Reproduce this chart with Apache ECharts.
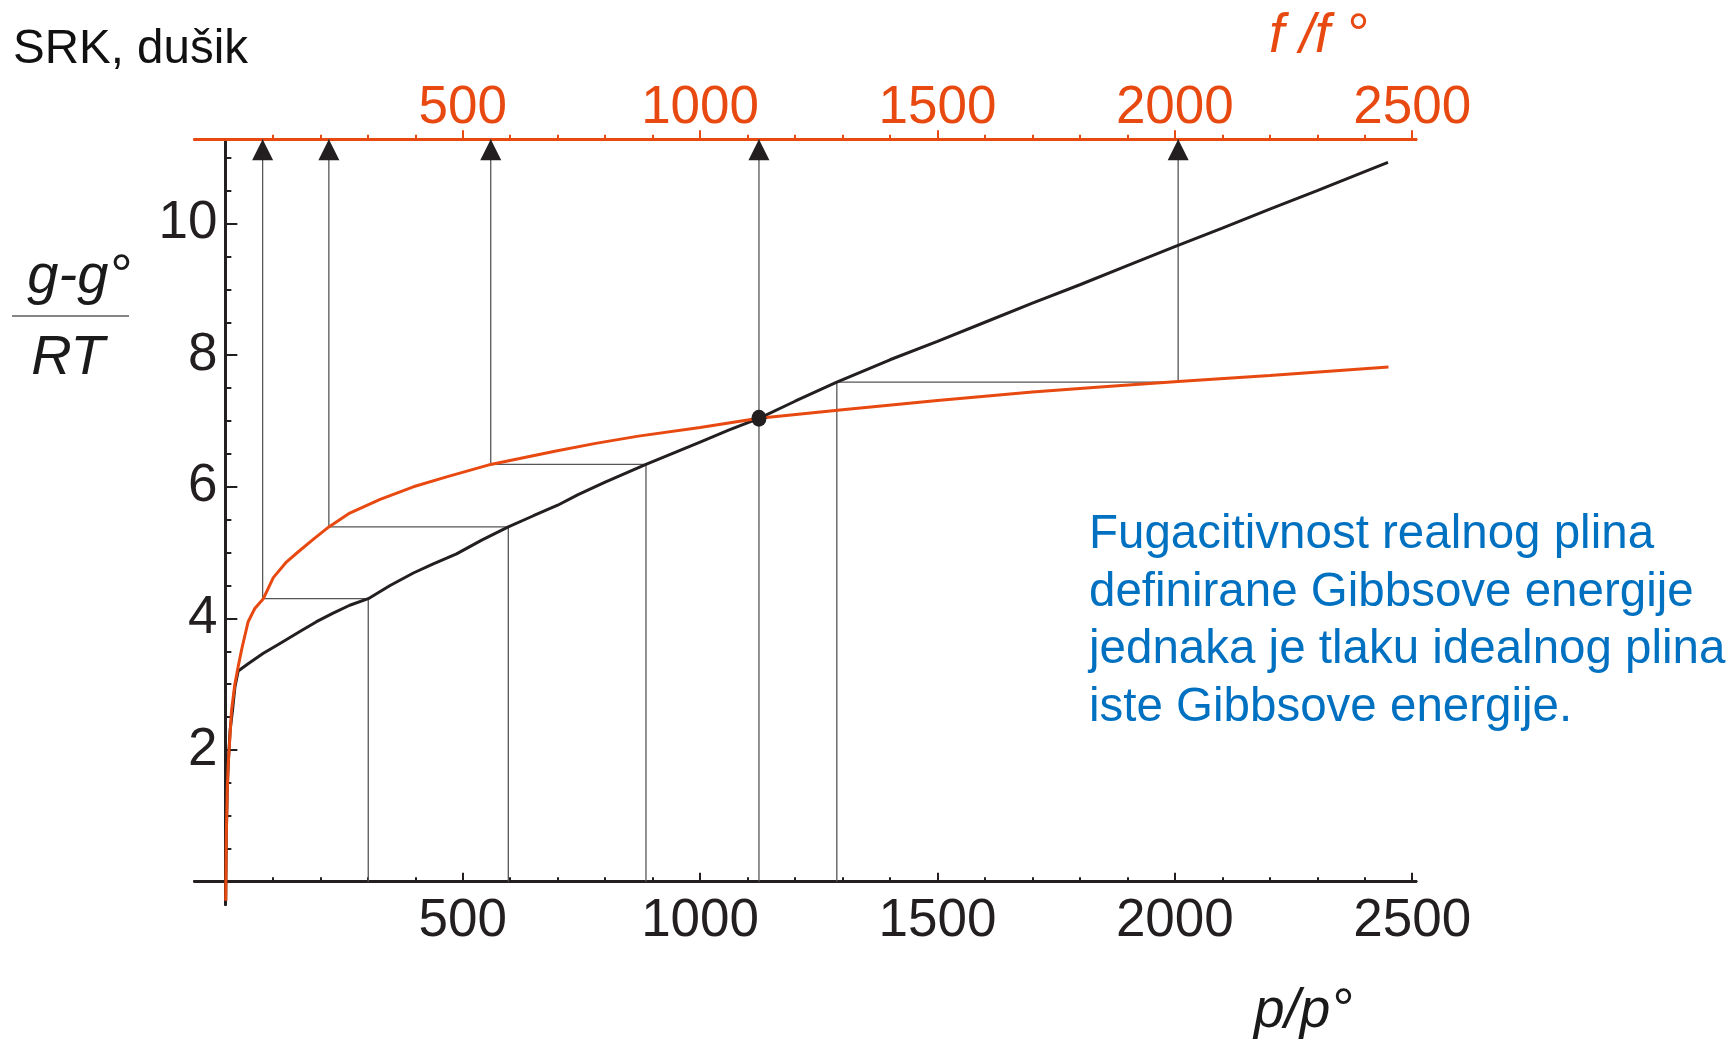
<!DOCTYPE html>
<html><head><meta charset="utf-8">
<script src="https://cdn.jsdelivr.net/npm/echarts@6/dist/echarts.min.js"></script>
<style>html,body{margin:0;padding:0;background:#fff}#c{width:1733px;height:1046px}</style>
</head><body><div id="c"></div>
<script>
// ---- data ----
const pressure = [0.75, 2, 4, 6, 10, 15, 20, 27, 48, 80, 115, 157, 192, 227, 262, 301, 347, 396, 438, 487, 540, 596, 649, 700, 743, 800, 886, 950, 1000, 1060, 1124, 1200, 1288, 1400, 1500, 1600, 1700, 1800, 1900, 2000, 2100, 2200, 2300, 2400, 2449];
const gBlack   = [-0.29, 0.7, 1.4, 1.78, 2.3, 2.6, 2.95, 3.2, 3.31, 3.47, 3.62, 3.80, 3.95, 4.08, 4.20, 4.30, 4.50, 4.69, 4.83, 4.98, 5.19, 5.39, 5.56, 5.72, 5.88, 6.07, 6.34, 6.53, 6.68, 6.86, 7.04, 7.30, 7.59, 7.93, 8.21, 8.50, 8.79, 9.07, 9.36, 9.65, 9.93, 10.22, 10.50, 10.79, 10.93];
const fugacity = [0.75, 2, 4, 6, 13, 20, 27, 35, 48, 62, 80, 101, 129, 150, 185, 218, 262, 326, 396, 466, 559, 620, 694, 780, 870, 1000, 1124, 1300, 1500, 1700, 1850, 2007, 2200, 2450];
const gRed     = [-0.29, 0.7, 1.4, 1.78, 2.6, 3.0, 3.27, 3.55, 3.95, 4.15, 4.30, 4.62, 4.86, 4.99, 5.2, 5.39, 5.6, 5.81, 6.0, 6.15, 6.34, 6.43, 6.54, 6.66, 6.77, 6.9, 7.04, 7.17, 7.31, 7.44, 7.52, 7.60, 7.69, 7.82];
const guideP = [301, 596, 886, 1124, 1288];
const guideF = [78.5, 218, 559, 1124, 2007];
const guideG = [4.30, 5.39, 6.34, 7.04, 7.59];
const crossP = [1124];
const crossG = [7.04];
const xMajorTicks = [500, 1000, 1500, 2000, 2500];
const xMinorTicks = [100,200,300,400,500,600,700,800,900,1000,1100,1200,1300,1400,1500,1600,1700,1800,1900,2000,2100,2200,2300,2400,2500];
const yMajorTicks = [2, 4, 6, 8, 10];
const yMinorTicks = [0.5,1,1.5,2,2.5,3,3.5,4,4.5,5,5.5,6,6.5,7,7.5,8,8.5,9,9.5,10,10.5,11];
const noteLines = ['Fugacitivnost realnog plina', 'definirane Gibbsove energije', 'jednaka je tlaku idealnog plina', 'iste Gibbsove energije.'];
const xMin = -65, xMax = 2508, yMin = -0.35, yMax = 11.28;

// ---- styling ----
const DARK = '#231F20', RED = '#E84910', BLUE = '#0070C0';
const FONT = '"Liberation Sans", Arial, Helvetica, sans-serif';
const fmt = v => String(v);

function xAxisDef(pos, ticks, len, labels, color, onZero) {
  return {
    type: 'value', position: pos, min: xMin, max: xMax,
    axisLine: { show: true, onZero: onZero, onZeroAxisIndex: 0, lineStyle: { color: color, width: 2.8 } },
    axisTick: { show: true, inside: pos === 'bottom', length: len, customValues: ticks, lineStyle: { color: color, width: 2 } },
    axisLabel: labels ? { show: true, customValues: labels, formatter: fmt, color: color, fontSize: 53, fontFamily: FONT, margin: pos === 'bottom' ? -10 : 4 } : { show: false },
    splitLine: { show: false }, minorTick: { show: false }
  };
}
function yAxisDef(ticks, len, labels) {
  return {
    type: 'value', position: 'left', min: yMin, max: yMax,
    axisLine: { show: true, onZero: true, onZeroAxisIndex: 0, lineStyle: { color: DARK, width: 2.8 } },
    axisTick: { show: true, inside: true, length: len, customValues: ticks, lineStyle: { color: DARK, width: 2 } },
    axisLabel: labels ? { show: true, customValues: labels, formatter: fmt, color: DARK, fontSize: 53, fontFamily: FONT, margin: -23 } : { show: false },
    splitLine: { show: false }
  };
}

// guide polyline: axis -> black curve -> red curve -> top axis
const guideData = [];
guideP.forEach((p, i) => {
  guideData.push([p, 0], [p, guideG[i]], [guideF[i], guideG[i]], [guideF[i], yMax], '-');
});

const chart = echarts.init(document.getElementById('c'), null, { renderer: 'canvas' });
chart.setOption({
  animation: false,
  backgroundColor: '#fff',
  grid: { left: 194.5, right: 317, top: 139.3, bottom: 141.3, containLabel: false, outerBoundsMode: 'none' },
  xAxis: [
    xAxisDef('bottom', xMajorTicks, 9, xMajorTicks, DARK, true),
    xAxisDef('bottom', xMinorTicks, 4.5, null, DARK, true),
    xAxisDef('top', xMajorTicks, 9, xMajorTicks, RED, false),
    xAxisDef('top', xMinorTicks, 4.5, null, RED, false)
  ],
  yAxis: [
    yAxisDef(yMajorTicks, 12, yMajorTicks),
    yAxisDef(yMinorTicks, 6, null)
  ],
  series: [
    { type: 'line', xAxisIndex: 0, yAxisIndex: 0, data: guideData, connectNulls: false, showSymbol: false, silent: true,
      lineStyle: { color: '#555555', width: 1.3 }, z: 1 },
    { type: 'line', xAxisIndex: 0, yAxisIndex: 0, data: pressure.map((p, i) => [p, gBlack[i]]), showSymbol: false,
      lineStyle: { color: DARK, width: 3 }, z: 3 },
    { type: 'line', xAxisIndex: 2, yAxisIndex: 0, data: fugacity.map((f, i) => [f, gRed[i]]), showSymbol: false,
      lineStyle: { color: RED, width: 3 }, z: 4 },
    { type: 'scatter', xAxisIndex: 2, yAxisIndex: 0, data: guideF.map(f => [f, yMax]), symbol: 'triangle',
      symbolSize: [21, 21], symbolOffset: [0, 10.5], itemStyle: { color: DARK, opacity: 1 }, z: 5 },
    { type: 'scatter', xAxisIndex: 0, yAxisIndex: 0, data: crossP.map((p, i) => [p, crossG[i]]), symbol: 'circle',
      symbolSize: [15, 17], itemStyle: { color: DARK, opacity: 1 }, z: 6 }
  ],
  graphic: [
    { type: 'text', x: 13, y: 50, style: { text: 'SRK, dušik', font: '47.5px ' + FONT, fill: '#111', align: 'left', verticalAlign: 'middle' } },
    { type: 'text', x: 1269, y: 37, style: { text: 'f /f °', font: 'italic 55px ' + FONT, fill: RED, align: 'left', verticalAlign: 'middle' } },
    { type: 'text', x: 1254, y: 1012, style: { text: 'p/p°', font: 'italic 55px ' + FONT, fill: '#1a1a1a', align: 'left', verticalAlign: 'middle' } },
    { type: 'text', x: 79, y: 277, style: { text: 'g-g°', font: 'italic 56px ' + FONT, fill: '#1a1a1a', align: 'center', verticalAlign: 'middle' } },
    { type: 'line', shape: { x1: 12, y1: 316, x2: 129, y2: 316 }, style: { stroke: '#858585', lineWidth: 2 } },
    { type: 'text', x: 68, y: 358, style: { text: 'RT', font: 'italic 56px ' + FONT, fill: '#1a1a1a', align: 'center', verticalAlign: 'middle' } }
  ].concat(noteLines.map((t, i) => ({
    type: 'text', x: 1089, y: 535 + i * 57.6,
    style: { text: t, font: '47.5px ' + FONT, fill: BLUE, align: 'left', verticalAlign: 'middle' }
  })))
});
</script>
</body></html>
